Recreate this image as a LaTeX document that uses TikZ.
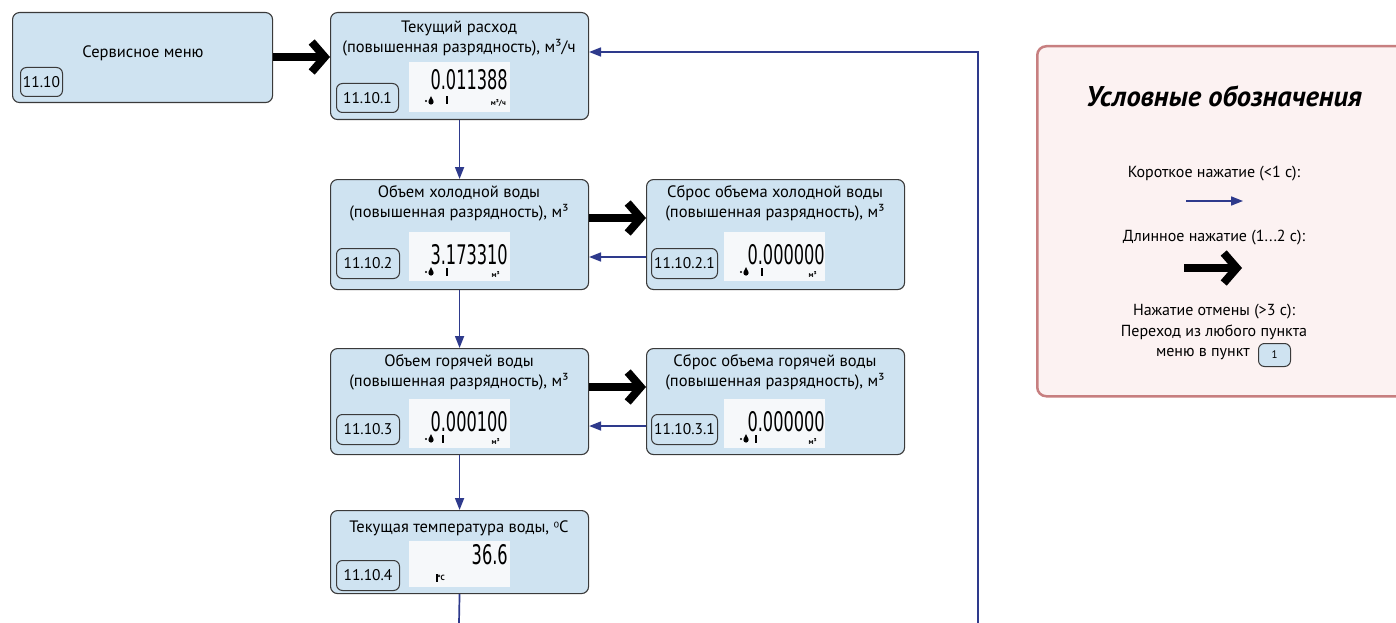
\documentclass[tikz,border=0pt]{standalone}
\usepackage{fontspec}
\setmainfont{PT Sans}
\newfontfamily\lcdfont{DejaVu Sans}
\usetikzlibrary{arrows.meta,calc}
\definecolor{boxblue}{HTML}{CFE3F1}
\definecolor{boxline}{HTML}{3A3A3A}
\definecolor{navy}{HTML}{2E3A8C}
\definecolor{legfill}{HTML}{FCF2F2}
\definecolor{legline}{HTML}{C77F80}
\definecolor{lcdbg}{HTML}{F6F8FA}
\tikzset{
  menubox/.style={draw=boxline, fill=boxblue, line width=1.1pt, rounded corners=7pt, anchor=north west, inner sep=0pt},
  tagbox/.style={draw=boxline, fill=boxblue, line width=1pt, rounded corners=6pt, anchor=north west, inner sep=0pt, font=\fontsize{15.5}{17}\selectfont},
  ttl/.style={font=\fontsize{16.5}{20}\selectfont, inner sep=0pt, align=center},
  lttl/.style={font=\fontsize{16}{20.5}\selectfont, inner sep=0pt, align=center},
  lcd/.style={fill=lcdbg, anchor=north west, inner sep=0pt, minimum width=101pt},
  lcdnum/.style={anchor=east, inner sep=0pt, font=\lcdfont\fontsize{27}{27}\selectfont},
  unit/.style={anchor=east, inner sep=0pt, font=\bfseries\fontsize{7.5}{8}\selectfont},
  shortarr/.style={draw=navy, line width=1.7pt, -{Triangle[length=12pt,width=9pt]}},
  longarr/.style={draw=black, line width=8pt, -{Straight Barb[length=13pt,width=30pt]}},
  lnk/.style={draw=navy, line width=1.7pt},
}
\newcommand{\lcdnumber}[2]{\scalebox{0.6}[1]{#2}}
\newcommand{\dropicon}[1]{%
  \fill ($(#1)+(-5,0)$) circle (1.1pt);
  \fill ($(#1)+(0,1)$) circle (2.6pt);
  \fill ($(#1)+(-2.4,0)$) -- ($(#1)+(0,-5)$) -- ($(#1)+(2.4,0)$) -- cycle;}
\newcommand{\baricon}[1]{\fill ($(#1)+(-1.2,-4.5)$) rectangle ($(#1)+(1.2,3.5)$);}
\begin{document}
\begin{tikzpicture}[x=1pt,y=-1pt]
\useasboundingbox (0,0) rectangle (1396,623);
\clip (0,0) rectangle (1396,623);
% Service menu
\node[menubox, minimum width=260pt, minimum height=90pt] (s) at (12,12) {};
\node[ttl] (st) at (143,53) {Сервисное меню};
\node[tagbox, minimum width=42pt, minimum height=29pt] (stag) at (20,67) {11.10};

% 11.10.1
\node[menubox, minimum width=258pt, minimum height=107pt] (b1) at (330,12) {};
\node[ttl] (b1t) at (459,39) {Текущий расход\\(повышенная разрядность), м³/ч};
\node[tagbox, minimum width=62pt, minimum height=29pt] (b1tag) at (336,83) {11.10.1};
\node[lcd, minimum height=50pt] (b1l) at (409,62) {};
\node[lcdnum] (b1n) at (508,80) {\lcdnumber{}{0.011388}};
\node[unit] (b1u) at (506,103) {м³/ч};

% 11.10.2
\node[menubox, minimum width=258pt, minimum height=110pt] (b2) at (330,179) {};
\node[ttl] (b2t) at (459,203) {Объем холодной воды\\(повышенная разрядность), м³};
\node[tagbox, minimum width=63pt, minimum height=30pt] (b2tag) at (336,248) {11.10.2};
\node[lcd, minimum height=49pt] (b2l) at (409,232) {};
\node[lcdnum] (b2n) at (508,255) {\lcdnumber{}{3.173310}};
\node[unit] (b2u) at (500,274) {м³};

% 11.10.2.1
\node[menubox, minimum width=258pt, minimum height=110pt] (c2) at (646,179) {};
\node[ttl] (c2t) at (775,203) {Сброс объема холодной воды\\(повышенная разрядность), м³};
\node[tagbox, minimum width=66pt, minimum height=30pt] (c2tag) at (651,248) {11.10.2.1};
\node[lcd, minimum height=49pt] (c2l) at (724,232) {};
\node[lcdnum] (c2n) at (825,255) {\lcdnumber{}{0.000000}};
\node[unit] (c2u) at (817,274) {м³};

% 11.10.3
\node[menubox, minimum width=258pt, minimum height=106pt] (b3) at (330,348) {};
\node[ttl] (b3t) at (459,372) {Объем горячей воды\\(повышенная разрядность), м³};
\node[tagbox, minimum width=63pt, minimum height=30pt] (b3tag) at (336,414) {11.10.3};
\node[lcd, minimum height=49pt] (b3l) at (409,399) {};
\node[lcdnum] (b3n) at (508,422) {\lcdnumber{}{0.000100}};
\node[unit] (b3u) at (500,441) {м³};

% 11.10.3.1
\node[menubox, minimum width=258pt, minimum height=106pt] (c3) at (646,348) {};
\node[ttl] (c3t) at (775,372) {Сброс объема горячей воды\\(повышенная разрядность), м³};
\node[tagbox, minimum width=66pt, minimum height=30pt] (c3tag) at (651,414) {11.10.3.1};
\node[lcd, minimum height=49pt] (c3l) at (724,399) {};
\node[lcdnum] (c3n) at (825,422) {\lcdnumber{}{0.000000}};
\node[unit] (c3u) at (817,441) {м³};

% 11.10.4
\node[menubox, minimum width=258pt, minimum height=83pt] (b4) at (330,510) {};
\node[ttl] (b4t) at (459,528) {Текущая температура воды, {\lcdfont\fontsize{14}{16}\selectfont ⁰}С};
\node[tagbox, minimum width=63pt, minimum height=30pt] (b4tag) at (336,560) {11.10.4};
\node[lcd, minimum height=46pt] (b4l) at (409,541) {};
\node[lcdnum] (b4n) at (508,555) {\lcdnumber{}{36.6}};
\node[unit] (b4u) at (445,578) {°C};

% LCD icons
\dropicon{431,101} \baricon{447,101}
\dropicon{431,272} \baricon{447,272}
\dropicon{431,439} \baricon{443,439}
\dropicon{746,272} \baricon{762,272}
\dropicon{746,439} \baricon{756,439}
\baricon{437,578}

% connectors
\draw[longarr] (s.east |- 0,57) -- (b1.west |- 0,57);
\draw[shortarr] (b1.south) -- (b2.north);
\draw[shortarr] (b2.south) -- (b3.north);
\draw[shortarr] (b3.south) -- (b4.north);
\coordinate (bot) at (459,623);
\draw[lnk] (b4.south) -- (bot);
\draw[longarr] (b2.east |- 0,218) -- (c2.west |- 0,218);
\draw[shortarr] (c2.west |- 0,257) -- (b2.east |- 0,257);
\draw[longarr] (b3.east |- 0,387) -- (c3.west |- 0,387);
\draw[shortarr] (c3.west |- 0,426) -- (b3.east |- 0,426);
\coordinate (ret) at (978,623);
\draw[shortarr] (ret) |- (b1.east |- 0,52);

% Legend
\node[draw=legline, fill=legfill, line width=2.5pt, rounded corners=9pt, anchor=north west, minimum width=380pt, minimum height=350pt, inner sep=0pt] (leg) at (1036,45) {};
\node[inner sep=0pt, font=\bfseries\itshape\fontsize{28.5}{32}\selectfont] (legt) at (1224,96) {Условные обозначения};
\node[lttl] (l1) at (1214,174) {Короткое нажатие (<1 с):};
\coordinate (a1s) at (1186,201);
\coordinate (a1e) at (1243,201);
\draw[shortarr] (a1s) -- (a1e);
\node[lttl] (l2) at (1214,238) {Длинное нажатие (1...2 с):};
\coordinate (a2s) at (1184,268);
\coordinate (a2e) at (1242,268);
\draw[longarr] (a2s) -- (a2e);
\node[lttl] (l3) at (1214,322) {Нажатие отмены (>3 с):\\Переход из любого пункта};
\node[lttl, anchor=east] (l4) at (1250,354) {меню в пункт};
\node[tagbox, minimum width=32pt, minimum height=23pt, font=\fontsize{11}{12}\selectfont] (ltag) at (1258,343) {1};
\end{tikzpicture}
\end{document}
